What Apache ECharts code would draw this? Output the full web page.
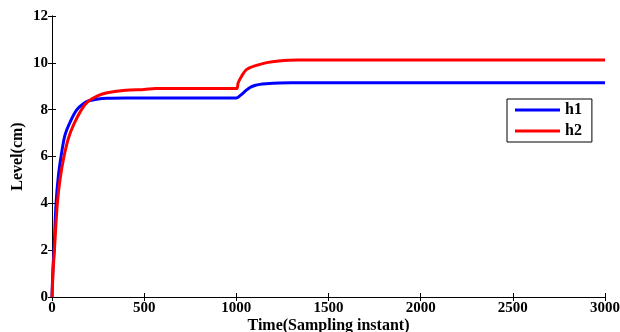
<!DOCTYPE html>
<html><head><meta charset="utf-8">
<script src="https://cdn.jsdelivr.net/npm/echarts@6/dist/echarts.min.js"></script>
<style>html,body{margin:0;padding:0;background:#fff}#c{width:620px;height:332px}</style>
</head><body><div id="c"></div>
<script>
const h1Time = [0,5,11,22,35,49,70,100,135,170,200,250,300,400,1000,1020,1050,1074,1100,1128,1160,1200,1300,3000];
const h1Level = [0,1.2,2.0,4.0,5.2,6.0,6.9,7.5,8.0,8.25,8.38,8.46,8.49,8.5,8.5,8.6,8.8,8.95,9.03,9.08,9.11,9.13,9.15,9.15];
const h2Time = [0,6,13,29,45,65,90,120,160,196,250,300,400,500,560,1000,1010,1030,1056,1100,1165,1230,1330,3000];
const h2Level = [0,1.1,2.0,4.0,5.1,6.0,6.8,7.4,8.0,8.35,8.6,8.72,8.83,8.86,8.9,8.9,9.15,9.45,9.72,9.87,10.01,10.08,10.12,10.12];
const xTicks = [0,500,1000,1500,2000,2500,3000];
const yTicks = [0,2,4,6,8,10,12];

const pair = (t, v) => t.map((x, i) => [x, v[i]]);
const font = {fontFamily:'Liberation Serif', fontWeight:'bold', fontSize:15, color:'#000'};
const axisLine = {show:true, lineStyle:{color:'#000', width:1}};
const chart = echarts.init(document.getElementById('c'));
chart.setOption({
  animation:false,
  grid:{left:52, right:15, top:16, bottom:35, outerBoundsMode:'none', containLabel:false},
  legend:{
    data:['h1','h2'], orient:'vertical', left:507, top:99,
    itemWidth:45, itemHeight:3, itemGap:5,
    icon:'rect',
    textStyle:{...font, fontSize:16},
    borderColor:'#000', borderWidth:1, padding:[3,10,3,8],
    backgroundColor:'#fff'
  },
  xAxis:[{
    type:'value', min:0, max:3000, interval:500,
    name:'Time(Sampling instant)', nameLocation:'middle', nameGap:21, nameMoveOverlap:false,
    nameTextStyle:{...font, fontSize:16},
    axisLine, axisTick:{show:true, inside:true, length:4, lineStyle:{color:'#000'}},
    axisLabel:{...font, margin:4, formatter:v => xTicks.includes(v) ? String(v) : ''},
    splitLine:{show:false}
  },{
    type:'value', position:'top', min:0, max:3000, interval:500,
    axisLine, axisTick:{show:true, inside:true, length:4, lineStyle:{color:'#000'}},
    axisLabel:{show:false}, splitLine:{show:false}
  }],
  yAxis:[{
    type:'value', min:0, max:12, interval:2,
    name:'Level(cm)', nameLocation:'middle', nameGap:26, nameRotate:90, nameMoveOverlap:false,
    nameTextStyle:{...font, fontSize:16},
    axisLine, axisTick:{show:true, inside:true, length:4, lineStyle:{color:'#000'}},
    axisLabel:{...font, margin:4, formatter:v => yTicks.includes(v) ? String(v) : ''},
    splitLine:{show:false}
  },{
    type:'value', position:'right', min:0, max:12, interval:2,
    axisLine, axisTick:{show:true, inside:true, length:4, lineStyle:{color:'#000'}},
    axisLabel:{show:false}, splitLine:{show:false}
  }],
  series:[
    {name:'h1', type:'line', data:pair(h1Time,h1Level), showSymbol:false, smooth:0.3,
     lineStyle:{color:'#0000ff', width:3}, itemStyle:{color:'#0000ff'}},
    {name:'h2', type:'line', data:pair(h2Time,h2Level), showSymbol:false, smooth:0.3,
     lineStyle:{color:'#ff0000', width:3}, itemStyle:{color:'#ff0000'}}
  ]
});
</script></body></html>
